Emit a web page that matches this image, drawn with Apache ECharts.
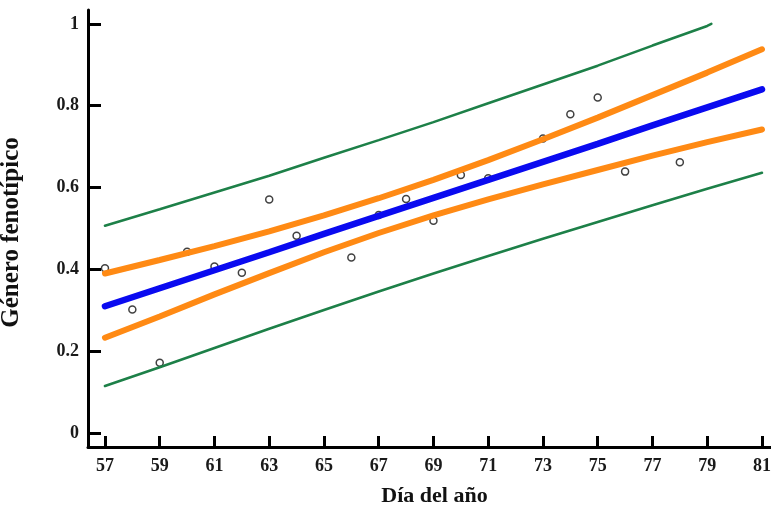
<!DOCTYPE html>
<html>
<head>
<meta charset="utf-8">
<script src="https://cdn.jsdelivr.net/npm/echarts@6/dist/echarts.min.js"></script>
<style>
html,body{margin:0;padding:0;background:#fff;}
#chart{width:771px;height:509px;}
</style>
</head>
<body>
<div id="chart"></div>
<script>
// Day of year where the curves were read
const days = [57, 59, 61, 63, 65, 67, 69, 71, 73, 75, 77, 79, 81];
// Fitted regression line (blue)
const fitted = [0.310, 0.354, 0.398, 0.442, 0.487, 0.531, 0.575, 0.619, 0.663, 0.707, 0.752, 0.796, 0.840];
// Confidence band (orange)
const confUpper = [0.390, 0.423, 0.457, 0.493, 0.532, 0.574, 0.619, 0.667, 0.718, 0.771, 0.826, 0.881, 0.938];
const confLower = [0.233, 0.285, 0.339, 0.391, 0.442, 0.489, 0.532, 0.571, 0.608, 0.643, 0.678, 0.711, 0.742];
// Prediction band (green); upper one stops at the top of the axis
const predUpperDays = [57, 59, 61, 63, 65, 67, 69, 71, 73, 75, 77, 79, 79.15];
const predUpper = [0.507, 0.547, 0.588, 0.629, 0.673, 0.716, 0.760, 0.806, 0.852, 0.898, 0.947, 0.995, 1.0];
const predLower = [0.115, 0.161, 0.208, 0.255, 0.301, 0.346, 0.390, 0.433, 0.475, 0.516, 0.557, 0.597, 0.636];
// Observed points
const obsDays = [57, 58, 59, 60, 61, 62, 63, 64, 66, 67, 68, 69, 70, 71, 73, 74, 75, 76, 78];
const obsValues = [0.403, 0.302, 0.172, 0.443, 0.407, 0.392, 0.571, 0.482, 0.429, 0.533, 0.572, 0.519, 0.631, 0.623, 0.720, 0.779, 0.820, 0.639, 0.662];
// Tick labels
const xTicks = [57, 59, 61, 63, 65, 67, 69, 71, 73, 75, 77, 79, 81];
const yTicks = [0, 0.2, 0.4, 0.6, 0.8, 1];

const pairs = (xs, ys) => xs.map((x, i) => [x, ys[i]]);
const FONT = '"Liberation Serif", "Times New Roman", serif';

const lineSeries = (name, xs, ys, color, width) => ({
  name, type: 'line', data: pairs(xs, ys), showSymbol: false, symbol: 'none',
  lineStyle: { color, width, cap: 'round' }, z: 3, silent: true, animation: false
});

const chart = echarts.init(document.getElementById('chart'), null, { renderer: 'canvas' });
chart.setOption({
  backgroundColor: '#ffffff',
  animation: false,
  grid: { left: 88, right: 0, top: 10, bottom: 62, containLabel: false, outerBoundsMode: 'none' },
  xAxis: {
    type: 'value', min: 56.38, max: 81.33,
    name: 'Día del año', nameLocation: 'middle', nameGap: 38,
    nameTextStyle: { fontFamily: FONT, fontWeight: 'bold', fontSize: 22, color: '#111', padding: [0, 0, 0, 10] },
    axisLine: { onZero: false, lineStyle: { color: '#000', width: 3 } },
    axisTick: { inside: true, length: 11, lineStyle: { color: '#000', width: 3 }, customValues: xTicks },
    axisLabel: { customValues: xTicks, margin: 10, fontFamily: FONT, fontWeight: 'bold', fontSize: 18, color: '#1a1a1a' },
    splitLine: { show: false }
  },
  yAxis: {
    type: 'value', min: -0.034, max: 1.034,
    name: 'Género fenotípico', nameLocation: 'middle', nameGap: 64, nameRotate: 90,
    nameTextStyle: { fontFamily: FONT, fontWeight: 'bold', fontSize: 25, color: '#111', padding: [0, 8, 0, 0] },
    axisLine: { onZero: false, lineStyle: { color: '#000', width: 3 } },
    axisTick: { inside: true, length: 13, lineStyle: { color: '#000', width: 3 }, customValues: yTicks },
    axisLabel: { customValues: yTicks, margin: 9, fontFamily: FONT, fontWeight: 'bold', fontSize: 18, color: '#1a1a1a',
      formatter: v => String(Math.round(v * 10) / 10) },
    splitLine: { show: false }
  },
  series: [
    {
      name: 'Observado', type: 'scatter', data: pairs(obsDays, obsValues),
      symbol: 'circle', symbolSize: 7,
      itemStyle: { color: '#ffffff', borderColor: '#111', borderWidth: 1.5 },
      z: 2, silent: true, animation: false
    },
    lineSeries('Predicción sup', predUpperDays, predUpper, '#1d8048', 2.6),
    lineSeries('Predicción inf', days, predLower, '#1d8048', 2.6),
    lineSeries('Confianza sup', days, confUpper, '#ff8a14', 6),
    lineSeries('Confianza inf', days, confLower, '#ff8a14', 6),
    lineSeries('Ajuste', days, fitted, '#0a0af0', 6.5)
  ]
});
</script>
</body>
</html>
